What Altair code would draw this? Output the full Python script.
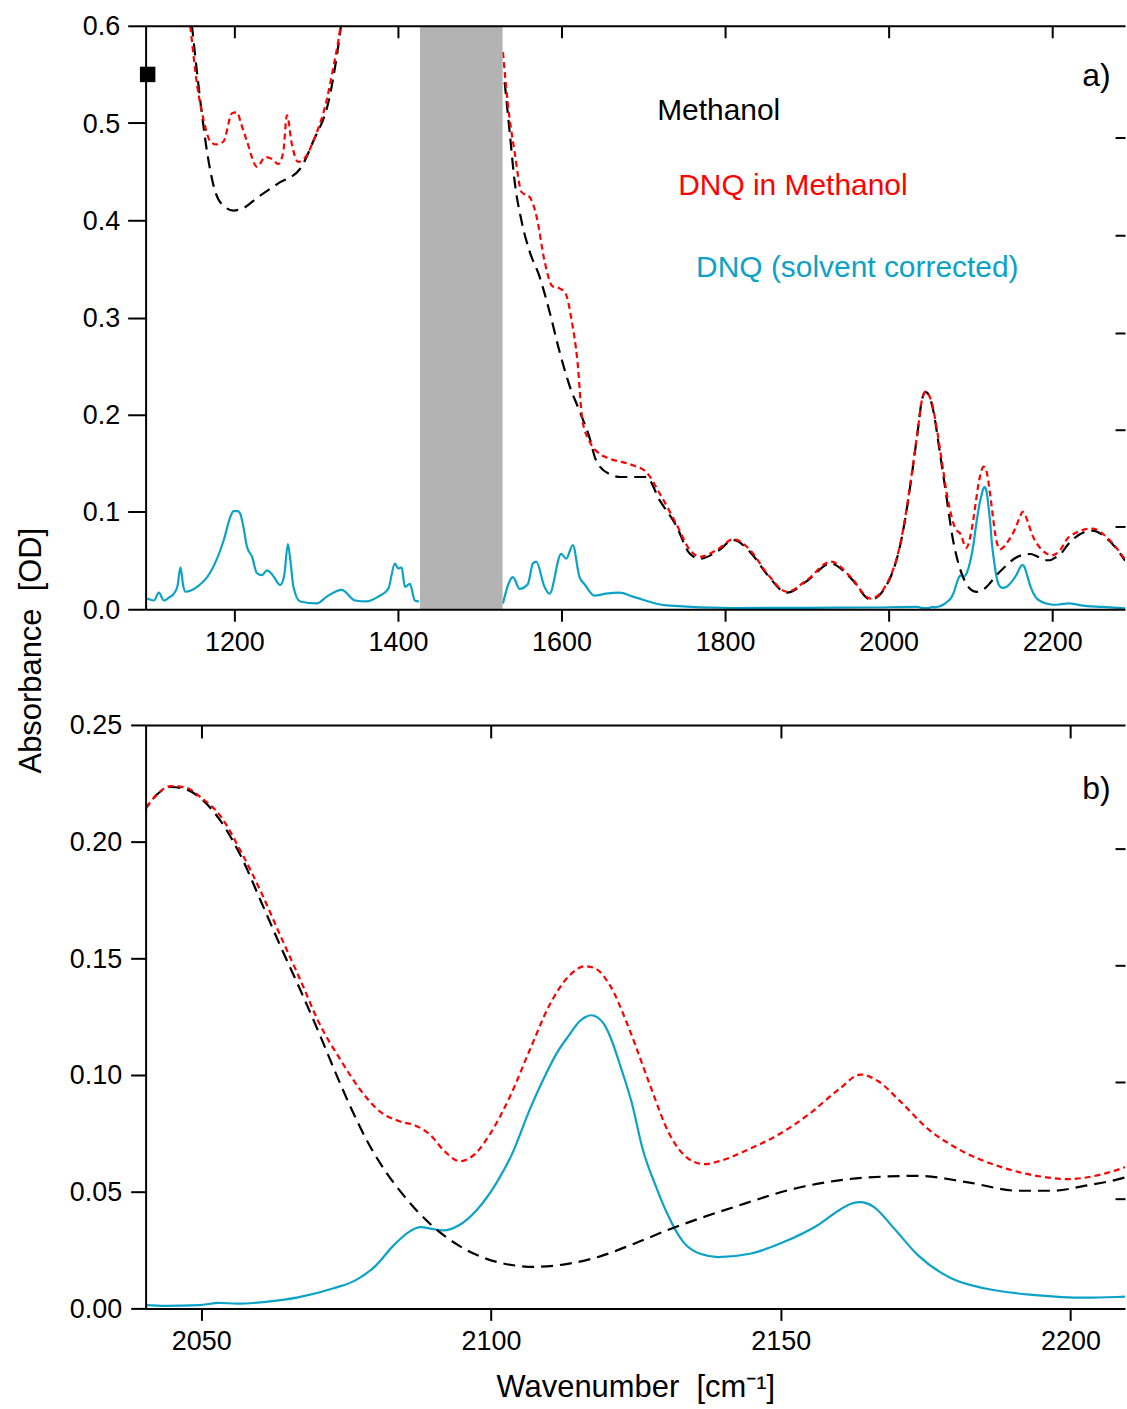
import altair as alt
import pandas as pd

# ---------------------------------------------------------------------------
# Spectra (wavenumber in cm^-1, absorbance in OD)
# ---------------------------------------------------------------------------
meoh_wn = [1143.0, 1148.4, 1158.5, 1166.7, 1176.8, 1188.0, 1198.8, 1212.0, 1227.7, 1253.7,
           1280.5, 1296.3, 1317.0, 1329.3, 1336.0,
           1530.5, 1536.6, 1542.7, 1551.2, 1561.0, 1573.2, 1585.4, 1597.6, 1609.8, 1622.0,
           1634.1, 1642.3, 1658.5, 1672.0, 1687.3, 1703.7, 1720.1, 1740.2, 1757.0, 1769.3,
           1789.8, 1810.4, 1830.5, 1851.2, 1875.6, 1900.0, 1929.3, 1953.7, 1978.0, 1994.8,
           2015.2, 2035.4,
           2040.4, 2042.5, 2044.7, 2047.3, 2049.9, 2053.3, 2056.8, 2060.2, 2063.6, 2067.1,
           2070.5, 2073.0, 2076.0, 2079.0, 2082.0, 2084.5, 2089.8, 2094.4, 2101.0, 2107.6,
           2113.0, 2118.7, 2124.5, 2130.3, 2141.9, 2153.4, 2165.0, 2173.7, 2182.3, 2191.0,
           2196.8, 2202.6, 2209.4,
           2220.2, 2248.8, 2269.5, 2289.0]
meoh_abs = [0.640, 0.598, 0.522, 0.470, 0.429, 0.414, 0.410, 0.413, 0.423, 0.438,
            0.453, 0.481, 0.529, 0.593, 0.640,
            0.542, 0.491, 0.440, 0.399, 0.368, 0.342, 0.306, 0.265, 0.230, 0.204,
            0.177, 0.153, 0.139, 0.136, 0.136, 0.136, 0.112, 0.086, 0.057, 0.052,
            0.059, 0.071, 0.059, 0.036, 0.017, 0.029, 0.047, 0.032, 0.010, 0.021,
            0.070, 0.182,
            0.214, 0.2205, 0.2234, 0.2225, 0.2186, 0.209, 0.194, 0.175, 0.1556, 0.1364,
            0.117, 0.102, 0.085, 0.070, 0.058, 0.0497, 0.0355, 0.027, 0.0199, 0.0178,
            0.019, 0.0222, 0.0275, 0.0334, 0.0434, 0.0519, 0.0561, 0.0568, 0.054, 0.0504,
            0.0504, 0.0526, 0.0561,
            0.0676, 0.0809, 0.0707, 0.050]

dnq_meoh_wn = [1142.0, 1146.3, 1154.5, 1162.2, 1170.7, 1178.0, 1186.6, 1197.2, 1203.3, 1208.0,
               1215.5, 1227.7, 1237.8, 1246.0, 1253.7, 1259.8, 1264.3, 1270.4, 1278.0, 1288.7,
               1296.3, 1313.0, 1320.7, 1329.3, 1335.0,
               1528.4, 1534.1, 1542.7, 1551.2, 1561.0, 1569.5, 1579.3, 1589.0, 1597.6, 1604.9,
               1612.2, 1619.5, 1625.6, 1634.1, 1646.3, 1658.5, 1687.3, 1703.7, 1720.1, 1740.2,
               1757.0, 1769.3, 1789.8, 1810.4, 1830.5, 1851.2, 1875.6, 1900.0, 1929.3, 1953.7,
               1978.0, 1994.8, 2015.2, 2035.4,
               2040.4, 2042.1, 2044.7, 2047.3, 2049.9, 2053.3, 2056.8, 2060.2, 2063.6, 2067.1,
               2070.5, 2074.0, 2077.4, 2080.8, 2084.3, 2086.9, 2089.4, 2092.0, 2094.6, 2097.2,
               2099.8, 2103.2, 2106.7, 2110.1, 2113.6, 2116.2, 2117.9, 2120.5, 2123.9, 2127.4,
               2130.8, 2134.2, 2136.8, 2139.4, 2144.5, 2149.7, 2154.8, 2160.0, 2163.8, 2166.9,
               2170.3, 2175.5, 2180.7, 2187.5, 2194.4, 2199.6, 2204.8, 2209.4,
               2220.2, 2248.8, 2269.5, 2289.0]
dnq_meoh_abs = [0.630, 0.598, 0.539, 0.504, 0.481, 0.478, 0.481, 0.510, 0.511, 0.500,
                0.481, 0.455, 0.465, 0.463, 0.458, 0.470, 0.508, 0.478, 0.460, 0.467,
                0.481, 0.524, 0.556, 0.597, 0.640,
                0.573, 0.522, 0.470, 0.429, 0.424, 0.404, 0.358, 0.332, 0.330, 0.325,
                0.298, 0.255, 0.194, 0.173, 0.160, 0.155, 0.148, 0.141, 0.119, 0.088,
                0.061, 0.054, 0.061, 0.072, 0.061, 0.037, 0.018, 0.030, 0.049, 0.033,
                0.011, 0.022, 0.071, 0.183,
                0.214, 0.2195, 0.2238, 0.2232, 0.219, 0.211, 0.196, 0.179, 0.160, 0.1407,
                0.1215, 0.1066, 0.0938, 0.0844, 0.0801, 0.0784, 0.0746, 0.0673, 0.0631, 0.0661,
                0.0746, 0.0904, 0.1108, 0.130, 0.1428, 0.1466, 0.1458, 0.1385, 0.1194, 0.0959,
                0.0746, 0.0639, 0.0618, 0.0631, 0.0682, 0.0746, 0.0831, 0.0938, 0.1002, 0.0972,
                0.0895, 0.0767, 0.0682, 0.061, 0.0567, 0.0554, 0.0571, 0.0605,
                0.0741, 0.083, 0.0717, 0.0512]

dnq_wn = [1093.5, 1101.6, 1107.7, 1113.8, 1120.0, 1126.0, 1130.5, 1134.1, 1137.5, 1140.2,
          1154.5, 1170.7, 1187.0, 1195.1, 1199.0, 1204.0, 1207.3, 1211.0, 1215.5, 1221.6,
          1227.7, 1233.5, 1239.9, 1246.0, 1256.1, 1261.0, 1265.5, 1268.5, 1272.3, 1280.5,
          1300.9, 1313.0, 1331.3, 1347.6, 1361.8, 1376.0, 1388.2, 1396.3, 1400.4, 1404.5,
          1408.5, 1414.6, 1420.7, 1426.0,
          1528.4, 1540.6, 1548.8, 1558.9, 1565.0, 1569.1, 1579.3, 1585.4, 1599.6, 1605.7,
          1613.8, 1622.0, 1628.0, 1640.2, 1654.5, 1670.7, 1687.3, 1728.0, 1810.0, 1900.0,
          1980.0, 2035.4,
          2040.4, 2043.7, 2049.7, 2053.0, 2056.2, 2061.5, 2066.7, 2072.7, 2076.6, 2079.9,
          2083.2, 2085.8, 2087.8, 2089.8, 2091.8, 2094.4, 2097.7, 2101.0, 2103.6, 2106.7,
          2109.0, 2111.5, 2113.6, 2115.2, 2116.4, 2117.3, 2118.3, 2119.5, 2120.8, 2122.3,
          2124.3, 2126.2, 2128.5, 2130.3, 2133.2, 2136.1, 2139.2, 2144.7, 2150.5, 2156.3,
          2160.4, 2162.0, 2163.5, 2165.0, 2166.1, 2169.6, 2173.7, 2179.5, 2185.3, 2193.9,
          2202.6, 2209.4,
          2220.2, 2235.0, 2261.0, 2289.0]
dnq_abs = [0.011, 0.009, 0.017, 0.009, 0.012, 0.016, 0.024, 0.043, 0.024, 0.018,
           0.023, 0.038, 0.071, 0.095, 0.101, 0.101, 0.098, 0.085, 0.064, 0.054,
           0.037, 0.035, 0.040, 0.036, 0.025, 0.035, 0.067, 0.050, 0.023, 0.008,
           0.006, 0.013, 0.020, 0.009, 0.008, 0.013, 0.021, 0.047, 0.042, 0.043,
           0.023, 0.026, 0.009, 0.008,
           0.006, 0.033, 0.021, 0.026, 0.047, 0.049, 0.023, 0.016, 0.057, 0.052,
           0.066, 0.033, 0.026, 0.014, 0.016, 0.017, 0.013, 0.004, 0.0013, 0.0015,
           0.0018, 0.0024,
           0.0014, 0.0011, 0.0014, 0.0024, 0.002, 0.0029, 0.0047, 0.0085, 0.012, 0.0178,
           0.027, 0.0327, 0.0348, 0.0341, 0.0334, 0.0355, 0.0426, 0.054, 0.066, 0.0853,
           0.098, 0.110, 0.1175, 0.1228, 0.1250, 0.1256, 0.1248, 0.1218, 0.1150, 0.104,
           0.088, 0.068, 0.052, 0.0412, 0.0284, 0.0234, 0.022, 0.0234, 0.0284, 0.0355,
           0.0426, 0.0447, 0.0455, 0.0449, 0.0434, 0.0341, 0.0227, 0.0128, 0.0085, 0.0057,
           0.0046, 0.005,
           0.0061, 0.004, 0.0024, 0.001]

series_names = ["Methanol", "DNQ in Methanol", "DNQ (solvent corrected)"]

# masked spectral window (strong solvent absorption)
band_start = [1427.0]
band_end = [1528.0]

# reference marker on the absorbance axis
marker_wn = [1094.0]
marker_abs = [0.55]

# tick values
x_ticks_a = [1200, 1400, 1600, 1800, 2000, 2200]
y_ticks_a = [0.0, 0.1, 0.2, 0.3, 0.4, 0.5, 0.6]
right_ticks_a = [0.1, 0.2, 0.3, 0.4, 0.5]
x_ticks_b = [2050, 2100, 2150, 2200]
y_ticks_b = [0.0, 0.05, 0.10, 0.15, 0.20, 0.25]
right_ticks_b = [0.05, 0.10, 0.15, 0.20]

# ---------------------------------------------------------------------------
BLACK = "#000000"
RED = "#ff0000"
BLUE = "#0ba2c8"
GRAY = "#b3b3b3"
FONT = "Liberation Sans"
NBSP = "\u00a0"


def spectrum_frame(wn, ab):
    df = pd.DataFrame({"wavenumber": wn, "absorbance": ab})
    # split the trace where it passes under the masked window
    df["segment"] = (df["wavenumber"] > band_start[0]).astype(int)
    return df


meoh_df = spectrum_frame(meoh_wn, meoh_abs)
dnq_meoh_df = spectrum_frame(dnq_meoh_wn, dnq_meoh_abs)
dnq_df = spectrum_frame(dnq_wn, dnq_abs)
band_df = pd.DataFrame({"start": band_start, "end": band_end})
marker_df = pd.DataFrame({"wavenumber": marker_wn, "absorbance": marker_abs})

AX = dict(domainColor="black", domainWidth=2, tickColor="black", tickWidth=2,
          labelColor="black", labelFont=FONT, labelFontSize=27, grid=False, zindex=1,
          titleFont=FONT, titleFontSize=31, titleFontWeight="normal", titleColor="black")


def panel(x_dom, y_dom, x_ticks, y_ticks, y_fmt, right_ticks, right_shift,
          y_tick_len, top_tick_len, left_title, left_title_kw, bottom_title,
          bottom_title_kw, y_label_pad):
    xs = alt.Scale(domain=x_dom, nice=False, zero=False)
    ys = alt.Scale(domain=y_dom, nice=False, zero=False)

    bottom_axis = alt.Axis(orient="bottom", values=x_ticks, format="d", tickSize=12,
                           labelPadding=8, title=bottom_title, **bottom_title_kw, **AX)
    left_axis = alt.Axis(orient="left", values=y_ticks, format=y_fmt, tickSize=y_tick_len,
                         labelPadding=y_label_pad, labelOffset=1, title=left_title,
                         **left_title_kw, **AX)
    top_tick_axis = alt.Axis(orient="top", values=x_ticks, offset=-top_tick_len,
                             tickSize=top_tick_len, domain=False, labels=False, title="", **AX)
    top_line_axis = alt.Axis(orient="top", ticks=False, labels=False, domain=True,
                             title="", **AX)
    right_axis = alt.Axis(orient="right", values=right_ticks, offset=-10,
                          position=right_shift, tickSize=10, domain=False, labels=False,
                          title="", **AX)

    blue = alt.Chart(dnq_df).mark_line(
        clip=True, color=BLUE, strokeWidth=2.2, interpolate="monotone"
    ).encode(
        x=alt.X("wavenumber:Q", scale=xs, axis=bottom_axis),
        y=alt.Y("absorbance:Q", scale=ys, axis=left_axis),
        detail="segment:N",
    )
    black = alt.Chart(meoh_df).mark_line(
        clip=True, color=BLACK, strokeWidth=2.2, strokeDash=[12, 7], interpolate="monotone"
    ).encode(
        x=alt.X("wavenumber:Q", scale=xs, axis=top_tick_axis),
        y=alt.Y("absorbance:Q", scale=ys, axis=right_axis),
        detail="segment:N",
    )
    red = alt.Chart(dnq_meoh_df).mark_line(
        clip=True, color=RED, strokeWidth=2.2, strokeDash=[6, 4], interpolate="monotone"
    ).encode(
        x=alt.X("wavenumber:Q", scale=xs, axis=top_line_axis),
        y=alt.Y("absorbance:Q", scale=ys, axis=None),
        detail="segment:N",
    )
    return xs, ys, [blue, black, red]


# ---------------------------------------------------------------- panel a
xs_a, ys_a, lines_a = panel(
    [1091.5, 2289.0], [0.0, 0.6], x_ticks_a, y_ticks_a, ".1f", right_ticks_a, 15,
    18, 12, "Absorbance " + NBSP + "[OD]",
    dict(titleAngle=270, titleX=-105, titleY=626, titleAlign="center",
         titleBaseline="alphabetic"),
    "", {}, 8)

band = alt.Chart(band_df).mark_rect(color=GRAY, clip=True).encode(
    x=alt.X("start:Q", scale=xs_a, axis=None),
    x2="end:Q",
)
marker = alt.Chart(marker_df).mark_point(
    shape="square", filled=True, size=240, color=BLACK, opacity=1
).encode(
    x=alt.X("wavenumber:Q", scale=xs_a, axis=None),
    y=alt.Y("absorbance:Q", scale=ys_a, axis=None),
)

notes_a = pd.DataFrame({
    "label": series_names,
    "wavenumber": [1717.0, 1742.7, 1764.6],
    "absorbance": [0.503, 0.426, 0.342],
    "color": [BLACK, RED, BLUE],
})
legend_text = alt.Chart(notes_a).mark_text(
    align="left", baseline="alphabetic", font=FONT, fontSize=30
).encode(
    x=alt.X("wavenumber:Q", scale=xs_a, axis=None),
    y=alt.Y("absorbance:Q", scale=ys_a, axis=None),
    text="label:N",
    color=alt.Color("color:N", scale=None),
)
tag_a = alt.Chart(pd.DataFrame({"t": ["a)"], "wavenumber": [2271.5], "absorbance": [0.5386]})).mark_text(
    align="right", baseline="alphabetic", font=FONT, fontSize=32, color=BLACK
).encode(
    x=alt.X("wavenumber:Q", scale=xs_a, axis=None),
    y=alt.Y("absorbance:Q", scale=ys_a, axis=None),
    text="t:N",
)

top = alt.layer(*lines_a, band, marker, legend_text, tag_a).resolve_axis(
    x="independent", y="independent"
).properties(width=982, height=585)

# ---------------------------------------------------------------- panel b
xs_b, ys_b, lines_b = panel(
    [2040.4, 2209.4], [0.0, 0.25], x_ticks_b, y_ticks_b, ".2f", right_ticks_b, 7,
    15, 13, "", {}, "Wavenumber " + NBSP + "[cm⁻¹]",
    dict(titleY=88, titleBaseline="alphabetic"), 9)

tag_b = alt.Chart(pd.DataFrame({"t": ["b)"], "wavenumber": [2206.9], "absorbance": [0.2182]})).mark_text(
    align="right", baseline="alphabetic", font=FONT, fontSize=32, color=BLACK
).encode(
    x=alt.X("wavenumber:Q", scale=xs_b, axis=None),
    y=alt.Y("absorbance:Q", scale=ys_b, axis=None),
    text="t:N",
)

bottom = alt.layer(*lines_b, tag_b).resolve_axis(
    x="independent", y="independent"
).properties(width=982, height=585)

chart = alt.vconcat(top, bottom, spacing=116, bounds="flush").properties(
    padding={"left": 15, "top": 10, "right": 0, "bottom": 0}
).configure_view(stroke="transparent")

chart.save("out.html", embed_options={"renderer": "svg", "actions": False})
